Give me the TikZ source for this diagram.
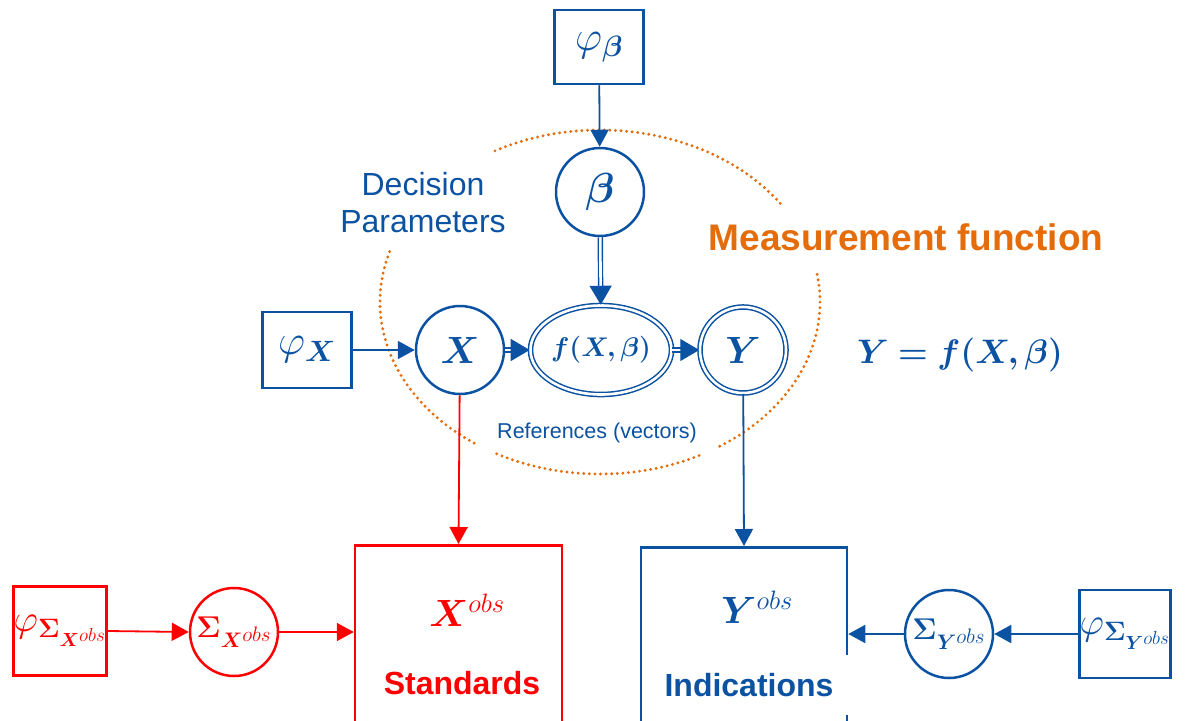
\RequirePackage{fix-cm}
\documentclass[tikz,border=0pt]{standalone}
\usepackage{amsmath}
\usepackage{bm}
\usepackage[no-math]{fontspec}
\setmainfont{Liberation Sans}
\usetikzlibrary{arrows.meta,shapes.geometric}

\definecolor{azul}{RGB}{12,82,162}
\definecolor{laranja}{RGB}{228,108,10}
\definecolor{vermelho}{RGB}{255,0,0}

\begin{document}
\begin{tikzpicture}[x=1pt, y=-1pt,
    >={Triangle[length=17pt,width=18pt]},
    no/.style={draw, circle, line width=2.5pt, minimum size=88pt, inner sep=0pt},
    caixa/.style={draw, line width=2.5pt, minimum width=89pt, minimum height=76pt, inner sep=0pt},
    seta/.style={->, line width=1.8pt},
    dupla/.style={-{Triangle[length=19pt,width=22pt]}, line width=1.4pt, double, double distance=2.6pt},
    pontos/.style={draw=laranja, line width=3.2pt, line cap=round, dash pattern=on 0pt off 5.6pt},
    mat/.style={font=\fontsize{42}{46}\selectfont},
    rotulo/.style={font=\fontsize{32}{37}\selectfont\bfseries}]
        \useasboundingbox (0,0) rectangle (1185,720);
        \clip (0,0) rectangle (1185,720);

        % Funcao de medicao (elipse pontilhada em quatro arcos)
        \coordinate (mf) at (600,302);
        \draw[pontos] (mf) ++(-35:220 and 172) arc[start angle=-35, end angle=-120, x radius=220, y radius=172];
        \draw[pontos] (mf) ++(-163:220 and 172) arc[start angle=-163, end angle=-236, x radius=220, y radius=172];
        \draw[pontos] (mf) ++(-242:220 and 172) arc[start angle=-242, end angle=-298, x radius=220, y radius=172];
        \draw[pontos] (mf) ++(-303:220 and 172) arc[start angle=-303, end angle=-371, x radius=220, y radius=172];

        % Parametros e referencias
        \node[caixa, draw=azul, text=azul, mat, minimum height=74pt] (phiB) at (599,47) {$\varphi_{\bm{\beta}}$};
        \node[no, draw=azul, text=azul, mat] (beta) at (600,192) {$\bm{\beta}$};
        \node[caixa, draw=azul, text=azul, mat] (phiX) at (307,350) {$\varphi_{\bm{X}}$};
        \node[no, draw=azul, text=azul, font=\fontsize{38}{42}\selectfont] (X) at (460,350) {$\bm{X}$};
        \node[draw=azul, text=azul, ellipse, line width=1.5pt, double, double distance=2.6pt,
              minimum width=128pt, minimum height=89pt, inner sep=0pt,
              font=\fontsize{27}{30}\selectfont] (fxb) at (601,350) {$\bm{f(X,\beta)}$};
        \node[no, draw=azul, text=azul, font=\fontsize{38}{42}\selectfont, line width=1.5pt, double, double distance=2.6pt,
              minimum size=86pt] (Y) at (743,350) {$\bm{Y}$};

        % Textos
        \node[text=azul, align=center, font=\fontsize{32}{37}\selectfont] (decisao) at (423,203) {Decision\\Parameters};
        \node[text=laranja, font=\fontsize{37}{40}\selectfont\bfseries] (medicao) at (906,237) {Measurement function};
        \node[text=azul, font=\fontsize{21.5}{24}\selectfont] (refs) at (597,433) {References (vectors)};
        \node[text=azul, font=\fontsize{34}{38}\selectfont] (eq) at (960,355) {$\bm{Y = f(X,\beta)}$};

        % Setas do modelo
        \draw[seta, azul] (phiB) -- (beta);
        \draw[seta, azul] (phiX) -- (X);
        \draw[dupla, azul] (beta) -- (fxb);
        \draw[dupla, azul] (X) -- (fxb);
        \draw[dupla, azul] (fxb) -- (Y);

        % Padroes (vermelho)
        \node[draw=vermelho, line width=2.5pt, minimum width=207pt, minimum height=200pt, anchor=north] (padroes) at (458.5,544) {};
        \node[text=vermelho, font=\fontsize{38}{42}\selectfont] (xobs) at (467,610) {$\bm{X}^{obs}$};
        \node[text=vermelho, rotulo] (standards) at (462,683) {Standards};
        \node[caixa, draw=vermelho, text=vermelho, font=\fontsize{38}{42}\selectfont, minimum height=89pt] (phiSX) at (60,631)
            {$\varphi_{\bm{\Sigma}_{\bm{X}^{obs}}}$};
        \node[no, draw=vermelho, text=vermelho, font=\fontsize{30}{34}\selectfont] (sigX) at (234,632)
            {$\bm{\Sigma}_{\bm{X}^{\scriptstyle obs}}$};
        \draw[seta, vermelho] (X) -- (padroes.north);
        \draw[seta, vermelho] (phiSX.east) -- (sigX.west);
        \draw[seta, vermelho] (sigX.east) -- (sigX.east -| padroes.west);

        % Indicacoes (azul)
        \node[draw=azul, line width=2.5pt, minimum width=206pt, minimum height=200pt, anchor=north] (indic) at (744,546) {};
        \node[text=azul, font=\fontsize{38}{42}\selectfont] (yobs) at (757,607) {$\bm{Y}^{obs}$};
        \node[text=azul, rotulo, fill=white, minimum width=204pt, minimum height=60pt] (indications) at (749,685) {Indications};
        \node[caixa, draw=azul, text=azul, font=\fontsize{38}{42}\selectfont, minimum height=88pt] (phiSY) at (1125,634)
            {$\varphi_{\bm{\Sigma}_{\bm{Y}^{obs}}}$};
        \node[no, draw=azul, text=azul, font=\fontsize{30}{34}\selectfont] (sigY) at (949,634)
            {$\bm{\Sigma}_{\bm{Y}^{\scriptstyle obs}}$};
        \draw[seta, azul] (Y) -- (indic.north);
        \draw[seta, azul] (phiSY.west) -- (sigY.east);
        \draw[seta, azul] (sigY.west) -- (sigY.west -| indic.east);
      \end{tikzpicture}
\end{document}
